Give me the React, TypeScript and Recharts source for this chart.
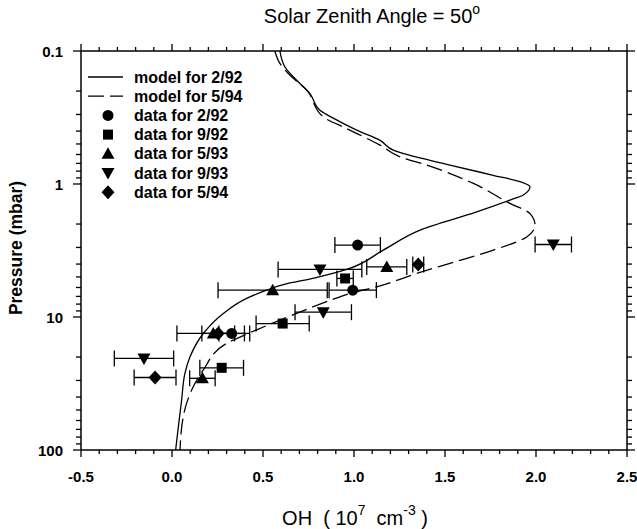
import React from 'react';
import { ComposedChart, Scatter, XAxis, YAxis, ErrorBar } from 'recharts';

const model292 = [
    { x: 0.593, y: 0.1 }, { x: 0.621, y: 0.132 }, { x: 0.667, y: 0.157 }, { x: 0.758, y: 0.209 },
    { x: 0.813, y: 0.279 }, { x: 0.886, y: 0.32 }, { x: 1.015, y: 0.394 }, { x: 1.143, y: 0.47 },
    { x: 1.216, y: 0.557 }, { x: 1.527, y: 0.72 }, { x: 1.765, y: 0.86 }, { x: 1.912, y: 0.96 },
    { x: 1.967, y: 1.05 }, { x: 1.93, y: 1.21 }, { x: 1.857, y: 1.32 }, { x: 1.674, y: 1.62 },
    { x: 1.363, y: 2.22 }, { x: 1.161, y: 3.14 }, { x: 0.96, y: 4.39 }, { x: 0.78, y: 5.1 },
    { x: 0.612, y: 5.7 }, { x: 0.52, y: 6.28 }, { x: 0.41, y: 7.25 }, { x: 0.282, y: 9.4 },
    { x: 0.172, y: 13.3 }, { x: 0.099, y: 19.9 }, { x: 0.071, y: 26.5 }, { x: 0.053, y: 42 },
    { x: 0.035, y: 66.8 }, { x: 0.02, y: 100 },
];
const model594 = [
    { x: 0.565, y: 0.1 }, { x: 0.593, y: 0.124 }, { x: 0.639, y: 0.148 }, { x: 0.74, y: 0.197 },
    { x: 0.831, y: 0.313 }, { x: 0.96, y: 0.383 }, { x: 1.143, y: 0.51 }, { x: 1.253, y: 0.625 },
    { x: 1.399, y: 0.72 }, { x: 1.656, y: 0.99 }, { x: 1.857, y: 1.4 }, { x: 1.967, y: 1.67 },
    { x: 1.995, y: 2.04 }, { x: 1.949, y: 2.5 }, { x: 1.766, y: 3.14 }, { x: 1.527, y: 3.95 },
    { x: 1.345, y: 4.7 }, { x: 1.125, y: 5.93 }, { x: 0.978, y: 6.65 }, { x: 0.923, y: 7.05 },
    { x: 0.685, y: 9.4 }, { x: 0.465, y: 12.5 }, { x: 0.3, y: 15.8 }, { x: 0.172, y: 25 },
    { x: 0.108, y: 35.4 }, { x: 0.062, y: 56 }, { x: 0.044, y: 100 },
];

// measurements with +/- x error
const data292 = [
    { x: 1.02, y: 2.88, ex: 0.125 },
    { x: 0.993, y: 6.28, ex: 0.13 },
    { x: 0.328, y: 13.3, ex: 0.07 },
];
const data992 = [
    { x: 0.951, y: 5.13, ex: 0.045 },
    { x: 0.608, y: 11.2, ex: 0.146 },
    { x: 0.273, y: 24.1, ex: 0.12 },
];
const data593 = [
    { x: 1.18, y: 4.2, ex: 0.11 },
    { x: 0.553, y: 6.28, ex: 0.3 },
    { x: 0.227, y: 13.3, ex: 0.2 },
    { x: 0.167, y: 28.9, ex: 0.07 },
];
const data993 = [
    { x: 2.095, y: 2.85, ex: 0.1 },
    { x: 0.813, y: 4.39, ex: 0.23 },
    { x: 0.831, y: 9.2, ex: 0.155 },
    { x: -0.154, y: 20.5, ex: 0.163 },
];
const data594 = [
    { x: 1.353, y: 4.03, ex: 0.03 },
    { x: 0.254, y: 13.3, ex: 0.09 },
    { x: -0.093, y: 28.5, ex: 0.115 },
];

const xMajorTicks = [-0.5, 0, 0.5, 1, 1.5, 2, 2.5];
const xTicks = Array.from({ length: 31 }, (_, i) => Math.round((-0.5 + i * 0.1) * 10) / 10);
const yMajorTicks = [0.1, 1, 10, 100];
const yTicks = [0.1, 1, 10].flatMap(d => [1, 2, 3, 4, 5, 6, 7, 8, 9].map(k => +(k * d).toPrecision(2))).concat([100]);

const FONT = '"Liberation Sans", Arial, sans-serif';
const isMajor = (list: number[], v: number) => list.some(t => Math.abs(t - v) < 1e-9 * Math.max(1, Math.abs(t)) + 1e-9);

const BottomTick = ({ x, y, payload }: any) => {
    const major = isMajor(xMajorTicks, payload.value);
    return (
        <g>
            <line x1={x} x2={x} y1={y} y2={y + (major ? 7 : 4)} stroke="#000" strokeWidth={1.3} />
            {major && (
                <text x={x} y={y + 26} textAnchor="middle" dominantBaseline="central" fontFamily={FONT} fontWeight="bold" fontSize={15} fill="#000">
                    {payload.value.toFixed(1)}
                </text>
            )}
        </g>
    );
};

const TopTick = ({ x, y, payload }: any) => {
    const major = isMajor(xMajorTicks, payload.value);
    return <line x1={x} x2={x} y1={y} y2={y - (major ? 7 : 4)} stroke="#000" strokeWidth={1.3} />;
};

const LeftTick = ({ x, y, payload }: any) => {
    const major = isMajor(yMajorTicks, payload.value);
    return (
        <g>
            <line x1={x} x2={x - (major ? 8 : 5)} y1={y} y2={y} stroke="#000" strokeWidth={1.3} />
            {major && (
                <text x={x - 18} y={y} textAnchor="end" dominantBaseline="central" fontFamily={FONT} fontWeight="bold" fontSize={15} fill="#000">
                    {String(payload.value)}
                </text>
            )}
        </g>
    );
};

const RightTick = ({ x, y, payload }: any) => {
    const major = isMajor(yMajorTicks, payload.value);
    return <line x1={x} x2={x + (major ? 8 : 5)} y1={y} y2={y} stroke="#000" strokeWidth={1.3} />;
};

const Circle = ({ cx, cy }: any) => <circle cx={cx} cy={cy} r={5.5} fill="#000" />;
const Square = ({ cx, cy }: any) => <rect x={cx - 5} y={cy - 5} width={10} height={10} fill="#000" />;
const UpTri = ({ cx, cy }: any) => <polygon points={`${cx - 6.5},${cy + 5} ${cx + 6.5},${cy + 5} ${cx},${cy - 6.5}`} fill="#000" />;
const DownTri = ({ cx, cy }: any) => <polygon points={`${cx - 6.5},${cy - 5} ${cx + 6.5},${cy - 5} ${cx},${cy + 6.5}`} fill="#000" />;
const Diamond = ({ cx, cy }: any) => <polygon points={`${cx},${cy - 7} ${cx + 6.5},${cy} ${cx},${cy + 7} ${cx - 6.5},${cy}`} fill="#000" />;
const NoDot = () => <g />;

const legendItems = [
    { label: 'model for 2/92', kind: 'solid' },
    { label: 'model for 5/94', kind: 'dashed' },
    { label: 'data for 2/92', kind: 'circle' },
    { label: 'data for 9/92', kind: 'square' },
    { label: 'data for 5/93', kind: 'up' },
    { label: 'data for 9/93', kind: 'down' },
    { label: 'data for 5/94', kind: 'diamond' },
];

const LegendSymbol = ({ kind, cy }: { kind: string; cy: number }) => {
    const cx = 108;
    if (kind === 'solid') return <line x1={88} x2={123} y1={cy} y2={cy} stroke="#000" strokeWidth={1.3} />;
    if (kind === 'dashed') return <line x1={88} x2={123} y1={cy} y2={cy} stroke="#000" strokeWidth={1.3} strokeDasharray="16 6" />;
    if (kind === 'circle') return <Circle cx={cx} cy={cy} />;
    if (kind === 'square') return <Square cx={cx} cy={cy} />;
    if (kind === 'up') return <UpTri cx={cx} cy={cy} />;
    if (kind === 'down') return <DownTri cx={cx} cy={cy} />;
    return <Diamond cx={cx} cy={cy} />;
};

const errStyle = { stroke: '#000', strokeWidth: 1.3 };

export default function App() {
    return (
        <div style={{ position: 'absolute', left: 0, top: 0, width: 637, height: 529, background: '#fff' }}>
            <ComposedChart width={637} height={529} margin={{ top: 41, right: 0, bottom: 49, left: 20 }}>
                <XAxis
                    type="number" dataKey="x" domain={[-0.5, 2.5]} ticks={xTicks} interval={0} allowDataOverflow
                    height={30} tickSize={0} tickMargin={0} tickLine={false} tick={<BottomTick />}
                    axisLine={{ stroke: '#000', strokeWidth: 1.5 }}
                />
                <XAxis
                    xAxisId="top" orientation="top" type="number" dataKey="x" domain={[-0.5, 2.5]} ticks={xTicks} interval={0} allowDataOverflow
                    height={10} tickSize={0} tickMargin={0} tickLine={false} tick={<TopTick />}
                    axisLine={{ stroke: '#000', strokeWidth: 1.5 }}
                />
                <YAxis
                    type="number" dataKey="y" scale="log" domain={[0.1, 100]} reversed ticks={yTicks} interval={0} allowDataOverflow
                    width={61} tickSize={0} tickMargin={0} tickLine={false} tick={<LeftTick />}
                    axisLine={{ stroke: '#000', strokeWidth: 1.5 }}
                />
                <YAxis
                    yAxisId="right" orientation="right" type="number" dataKey="y" scale="log" domain={[0.1, 100]} reversed ticks={yTicks} interval={0} allowDataOverflow
                    width={10} tickSize={0} tickMargin={0} tickLine={false} tick={<RightTick />}
                    axisLine={{ stroke: '#000', strokeWidth: 1.5 }}
                />
                <Scatter data={model292} shape={<NoDot />} line={{ stroke: '#000', strokeWidth: 1.3 }} lineJointType="monotoneY" isAnimationActive={false} />
                <Scatter data={model594} shape={<NoDot />} line={{ stroke: '#000', strokeWidth: 1.3, strokeDasharray: '16 6' }} lineJointType="monotoneY" isAnimationActive={false} />
                <Scatter data={data292} shape={<Circle />} isAnimationActive={false}>
                    <ErrorBar dataKey="ex" direction="x" width={8} {...errStyle} />
                </Scatter>
                <Scatter data={data992} shape={<Square />} isAnimationActive={false}>
                    <ErrorBar dataKey="ex" direction="x" width={8} {...errStyle} />
                </Scatter>
                <Scatter data={data593} shape={<UpTri />} isAnimationActive={false}>
                    <ErrorBar dataKey="ex" direction="x" width={8} {...errStyle} />
                </Scatter>
                <Scatter data={data993} shape={<DownTri />} isAnimationActive={false}>
                    <ErrorBar dataKey="ex" direction="x" width={8} {...errStyle} />
                </Scatter>
                <Scatter data={data594} shape={<Diamond />} isAnimationActive={false}>
                    <ErrorBar dataKey="ex" direction="x" width={8} {...errStyle} />
                </Scatter>
            </ComposedChart>
            <svg width={637} height={529} style={{ position: 'absolute', left: 0, top: 0, pointerEvents: 'none' }}>
                <text x={372} y={16} textAnchor="middle" dominantBaseline="central" fontFamily={FONT} fontSize={20} fill="#000">
                    Solar Zenith Angle = 50<tspan fontSize={14} dy={-7}>o</tspan>
                </text>
                <text x={355} y={518} textAnchor="middle" dominantBaseline="central" fontFamily={FONT} fontSize={20} fill="#000" xmlSpace="preserve">
                    {'OH  ( 10'}<tspan fontSize={14} dy={-8}>7</tspan><tspan dy={8}>{'  cm'}</tspan><tspan fontSize={14} dy={-8}>-3</tspan><tspan dy={8}>{' )'}</tspan>
                </text>
                <text x={16} y={248} textAnchor="middle" dominantBaseline="central" fontFamily={FONT} fontWeight="bold" fontSize={17.5} fill="#000" transform="rotate(-90 16 248)">
                    Pressure (mbar)
                </text>
                {legendItems.map((item, i) => {
                    const cy = 77 + i * 19.2;
                    return (
                        <g key={item.label}>
                            <LegendSymbol kind={item.kind} cy={cy} />
                            <text x={134} y={cy} dominantBaseline="central" fontFamily={FONT} fontWeight="bold" fontSize={16} fill="#000">
                                {item.label}
                            </text>
                        </g>
                    );
                })}
            </svg>
        </div>
    );
}
